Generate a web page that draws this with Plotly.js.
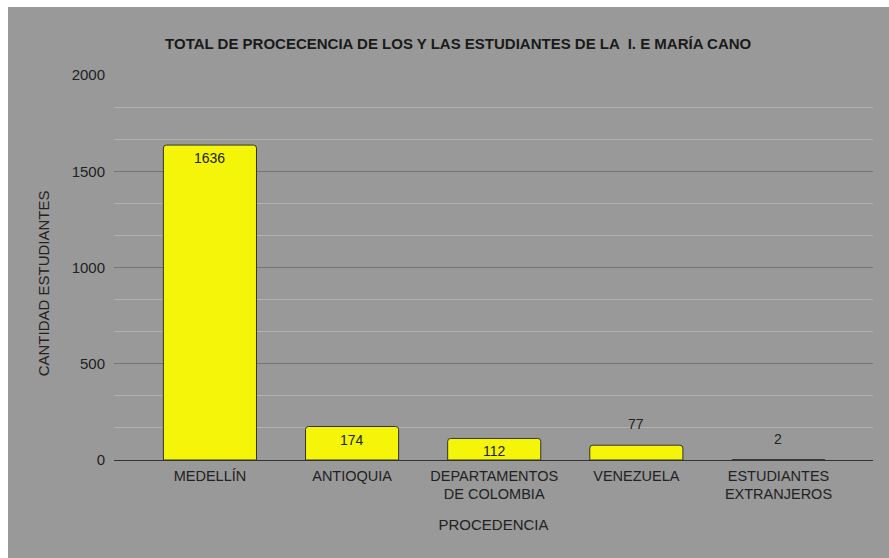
<!DOCTYPE html>
<html>
<head>
<meta charset="utf-8">
<script src="https://cdn.plot.ly/plotly-3.0.1.min.js"></script>
<style>
  html, body { margin: 0; padding: 0; background: #ffffff; }
  #chart { position: absolute; left: 8px; top: 7px; width: 881px; height: 551px; }
</style>
</head>
<body>
<div id="chart"></div>
<script>
const categories = ["MEDELLÍN", "ANTIOQUIA", "DEPARTAMENTOS<br>DE COLOMBIA", "VENEZUELA", "ESTUDIANTES<br>EXTRANJEROS"];
const students = [1636, 174, 112, 77, 2];
const labelPositions = ["inside", "inside", "inside", "outside", "outside"];
const yTicks = [0, 500, 1000, 1500, 2000];

const font = "Liberation Sans, Arial, sans-serif";

const trace = {
  type: "bar",
  x: categories,
  y: students,
  width: 0.655,
  marker: { color: "#f5f50a", line: { color: "#333333", width: 1 }, cornerradius: 3 },
  hoverinfo: "x+y"
};

const valueLabels = categories.map((c, i) => ({
  x: c,
  y: students[i],
  xref: "x", yref: "y",
  text: String(students[i]),
  showarrow: false,
  xanchor: "center", yanchor: "middle",
  yshift: labelPositions[i] === "inside" ? -13 : 21,
  font: { family: font, size: 14, color: "#222222" }
}));

const layout = {
  width: 881,
  height: 551,
  paper_bgcolor: "#999999",
  plot_bgcolor: "#999999",
  margin: { l: 106, r: 16, t: 68, b: 98 },
  showlegend: false,
  font: { family: font, size: 14.5, color: "#222222" },
  title: {
    text: "<b>TOTAL DE PROCECENCIA DE LOS Y LAS ESTUDIANTES DE LA  I. E MARÍA CANO</b>",
    font: { family: font, size: 15, color: "#1a1a1a" },
    x: 0.511, xanchor: "center", xref: "container",
    y: 0.933, yanchor: "middle", yref: "container"
  },
  xaxis: {
    type: "category",
    range: [-0.675, 4.665],
    showgrid: false,
    showline: false,
    ticks: "",
    ticklabelstandoff: 5,
    tickfont: { family: font, size: 14.5, color: "#222222" },
    title: { text: "PROCEDENCIA", font: { family: font, size: 15, color: "#222222" }, standoff: 18 },
    automargin: false
  },
  yaxis: {
    range: [0, 2000],
    tickvals: yTicks,
    ticktext: yTicks.map(String),
    showgrid: true,
    gridcolor: "#767676",
    gridwidth: 1,
    zeroline: true,
    zerolinecolor: "#333333",
    zerolinewidth: 1,
    showline: false,
    ticks: "",
    ticklabelstandoff: 8,
    tickfont: { family: font, size: 15, color: "#222222" },
    minor: { dtick: 500 / 3, showgrid: true, gridcolor: "#b2b2b2", gridwidth: 1 },
    automargin: false
  },
  annotations: [{
    text: "CANTIDAD ESTUDIANTES",
    textangle: -90,
    xref: "paper", yref: "paper",
    x: -0.093, y: 0.46,
    xanchor: "center", yanchor: "middle",
    showarrow: false,
    font: { family: font, size: 15, color: "#222222" }
  }].concat(valueLabels)
};

Plotly.newPlot("chart", [trace], layout, { displayModeBar: false, staticPlot: true });
</script>
</body>
</html>
